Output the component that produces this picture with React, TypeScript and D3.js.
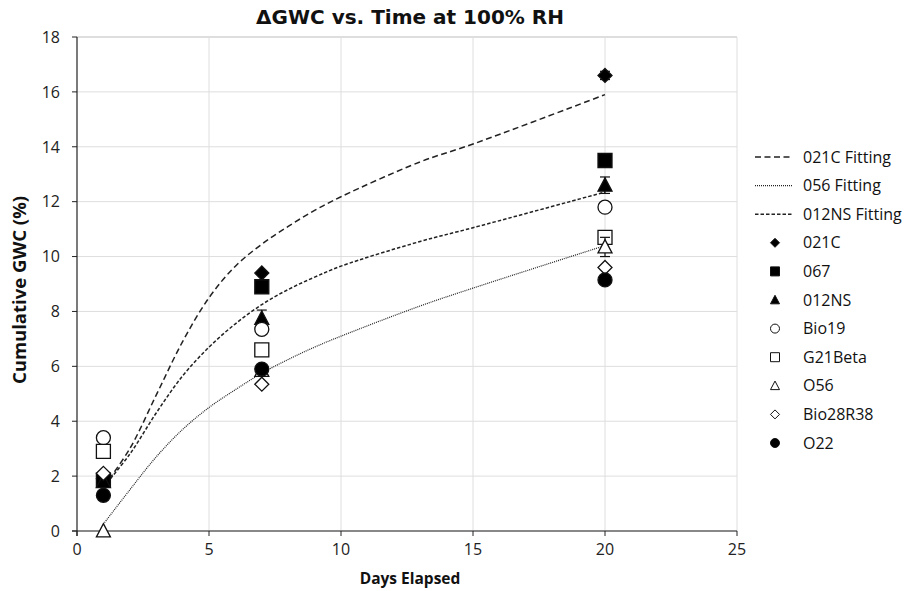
import React from 'react'
import * as d3 from 'd3'

// measured days and cumulative GWC (%) per sample
const days = [1, 7, 20]
const s021C = [1.9, 9.4, 16.6]
const s067 = [1.85, 8.9, 13.5]
const s012NS = [1.8, 7.75, 12.6]
const sBio19 = [3.4, 7.35, 11.8]
const sG21Beta = [2.9, 6.6, 10.7]
const sO56 = [0.0, 5.85, 10.35]
const sBio28R38 = [2.1, 5.35, 9.6]
const sO22 = [1.3, 5.9, 9.15]

// error bar half-widths (mostly hidden behind markers)
const e021C = [0, 0, 0.15]
const e012NS = [0, 0.3, 0.3]
const eO56 = [0, 0, 0.35]

// fitting curves
const fitDays = [1, 2, 3, 4, 5, 6, 7, 8, 9, 10, 13, 15, 20]
const fit021C = [1.6, 3.0, 4.95, 6.9, 8.5, 9.65, 10.45, 11.1, 11.68, 12.18, 13.45, 14.1, 15.9]
const fit056 = [0.25, 1.5, 2.7, 3.7, 4.5, 5.15, 5.75, 6.25, 6.7, 7.1, 8.2, 8.85, 10.4]
const fit012NS = [1.6, 2.8, 4.3, 5.65, 6.7, 7.55, 8.25, 8.8, 9.25, 9.65, 10.55, 11.05, 12.35]

const xTicks = [0, 5, 10, 15, 20, 25]
const yTicks = [0, 2, 4, 6, 8, 10, 12, 14, 16, 18]

const fits = [
    { name: '021C Fitting', values: fit021C, dash: '6,3.5', width: 1.5 },
    { name: '056 Fitting', values: fit056, dash: '1,1', width: 1.2 },
    { name: '012NS Fitting', values: fit012NS, dash: '3.5,2', width: 1.5 },
]

const series = [
    { name: '021C', values: s021C, err: e021C, shape: 'diamond', filled: true },
    { name: '067', values: s067, err: null, shape: 'square', filled: true },
    { name: '012NS', values: s012NS, err: e012NS, shape: 'triangle', filled: true },
    { name: 'Bio19', values: sBio19, err: null, shape: 'circle', filled: false },
    { name: 'G21Beta', values: sG21Beta, err: null, shape: 'square', filled: false },
    { name: 'O56', values: sO56, err: eO56, shape: 'triangle', filled: false },
    { name: 'Bio28R38', values: sBio28R38, err: null, shape: 'diamond', filled: false },
    { name: 'O22', values: sO22, err: null, shape: 'circle', filled: true },
]

function markerPath(shape: string, r: number) {
    const p = d3.path()
    if (shape === 'circle') {
        p.arc(0, 0, r, 0, Math.PI * 2)
    } else if (shape === 'square') {
        p.rect(-r, -r, 2 * r, 2 * r)
    } else if (shape === 'diamond') {
        p.moveTo(0, -r); p.lineTo(r, 0); p.lineTo(0, r); p.lineTo(-r, 0); p.closePath()
    } else {
        p.moveTo(0, -r * 1.05); p.lineTo(r, r * 0.85); p.lineTo(-r, r * 0.85); p.closePath()
    }
    return p.toString()
}

export default function App() {
    const width = 904
    const height = 591
    const left = 77, right = 737, top = 37, bottom = 531

    const x = d3.scaleLinear().domain([0, 25]).range([left, right])
    const y = d3.scaleLinear().domain([0, 18]).range([bottom, top])

    const line = d3.line<number>()
        .x((d, i) => x(fitDays[i]))
        .y((d) => y(d))
        .curve(d3.curveCatmullRom.alpha(0.5))

    const font = "'Open Sans', 'Noto Sans', sans-serif"
    const legendX = 755
    const legendY0 = 157
    const legendStep = 28.6

    return (
        <svg width={width} height={height} style={{ position: 'absolute', left: 0, top: 0, background: '#fff' }}>
            <text x={(left + right) / 2 + 3} y={24} textAnchor="middle" fontFamily="'DejaVu Sans', Verdana, sans-serif"
                fontWeight="bold" fontSize={20} fill="#111">ΔGWC vs. Time at 100% RH</text>

            {/* grid */}
            {yTicks.map((t) => (
                <line key={'gy' + t} x1={left} x2={right} y1={y(t)} y2={y(t)} stroke={t === 18 ? '#bdbdbd' : '#dedede'} strokeWidth={1} />
            ))}
            {xTicks.filter((t) => t > 0).map((t) => (
                <line key={'gx' + t} x1={x(t)} x2={x(t)} y1={top} y2={bottom} stroke="#dedede" strokeWidth={1} />
            ))}

            {/* axes */}
            <line x1={left} x2={left} y1={top} y2={bottom + 5} stroke="#222" strokeWidth={1.2} />
            <line x1={left - 5} x2={right} y1={bottom} y2={bottom} stroke="#222" strokeWidth={1.2} />
            {yTicks.map((t) => (
                <g key={'ty' + t}>
                    <line x1={left - 5} x2={left} y1={y(t)} y2={y(t)} stroke="#222" />
                    <text x={left - 17} y={y(t)} dy="0.36em" textAnchor="end" fontFamily={font} fontSize={16} fill="#222">{t}</text>
                </g>
            ))}
            {xTicks.map((t) => (
                <g key={'tx' + t}>
                    <line x1={x(t)} x2={x(t)} y1={bottom} y2={bottom + 5} stroke="#222" />
                    <text x={x(t)} y={bottom + 24} textAnchor="middle" fontFamily={font} fontSize={16} fill="#222">{t}</text>
                </g>
            ))}
            <text x={(left + right) / 2 + 3} y={584} textAnchor="middle" fontFamily={font} fontWeight="bold" fontSize={15.5} fill="#111">Days Elapsed</text>
            <text transform={`translate(26, 290) rotate(-90)`} textAnchor="middle" fontFamily={font} fontWeight="bold" fontSize={18.5} fill="#111">Cumulative GWC (%)</text>

            {/* fitting curves */}
            {fits.map((f) => (
                <path key={f.name} d={line(f.values) || ''} fill="none" stroke="#222" strokeWidth={f.width} strokeDasharray={f.dash} />
            ))}

            {/* error bars + markers */}
            {series.map((s) => (
                <g key={s.name}>
                    {s.err && s.values.map((v, i) => s.err![i] > 0 && (
                        <g key={i} stroke="#111" strokeWidth={1.2}>
                            <line x1={x(days[i])} x2={x(days[i])} y1={y(v - s.err![i])} y2={y(v + s.err![i])} />
                            <line x1={x(days[i]) - 5} x2={x(days[i]) + 5} y1={y(v - s.err![i])} y2={y(v - s.err![i])} />
                            <line x1={x(days[i]) - 5} x2={x(days[i]) + 5} y1={y(v + s.err![i])} y2={y(v + s.err![i])} />
                        </g>
                    ))}
                    {s.values.map((v, i) => (
                        <path key={i} transform={`translate(${x(days[i])},${y(v)})`} d={markerPath(s.shape, 7)}
                            fill={s.filled ? '#000' : '#fff'} stroke="#111" strokeWidth={1.3} />
                    ))}
                </g>
            ))}

            {/* legend */}
            {fits.map((f, i) => (
                <g key={'lf' + f.name} transform={`translate(0, ${legendY0 + i * legendStep})`}>
                    <line x1={legendX} x2={legendX + 37} y1={0} y2={0} stroke="#222" strokeWidth={f.width} strokeDasharray={f.dash} />
                    <text x={803} y={0} dy="0.35em" fontFamily={font} fontSize={16} fill="#111">{f.name}</text>
                </g>
            ))}
            {series.map((s, i) => (
                <g key={'ls' + s.name} transform={`translate(0, ${legendY0 + (i + 3) * legendStep})`}>
                    <path transform={`translate(775,0)`} d={markerPath(s.shape, 4.5)} fill={s.filled ? '#000' : '#fff'} stroke="#111" strokeWidth={1} />
                    <text x={803} y={0} dy="0.35em" fontFamily={font} fontSize={16} fill="#111">{s.name}</text>
                </g>
            ))}
        </svg>
    )
}
